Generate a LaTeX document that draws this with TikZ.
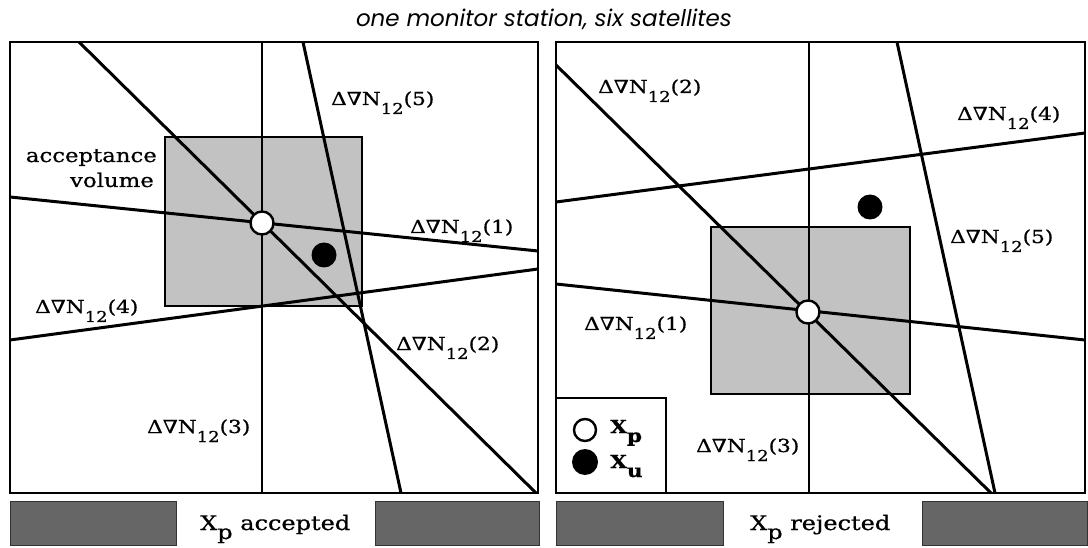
\documentclass[tikz,border=0pt]{standalone}
\usepackage{fontspec}
\setmainfont{DejaVu Serif}[FakeStretch=1.2, FakeBold=0.7]
\newfontfamily\titlefont{Poppins}
\newcommand\dvn[1]{Δ∇N\raisebox{-9pt}{\fontsize{15}{15}\selectfont 12}(#1)}
\newcommand\lsub[2]{#1\raisebox{-9pt}{#2}}
\tikzset{
  frame/.style={draw=black, line width=2.4pt, fill=white},
  vol/.style={draw=black, line width=2.4pt, fill=black!24},
  bar/.style={draw=black!80, line width=0.8pt, fill=black!60},
  thickline/.style={line width=3pt},
  thinline/.style={line width=2pt},
  lbl/.style={anchor=base west, inner sep=0pt, font=\fontsize{18}{20}\selectfont},
  openpt/.style={circle, draw=black, line width=2.4pt, fill=white, minimum size=23pt, inner sep=0pt},
  fullpt/.style={circle, fill=black, minimum size=25pt, inner sep=0pt},
  bigtxt/.style={anchor=base west, inner sep=0pt, font=\fontsize{20}{22}\selectfont},
}
\begin{document}
\begin{tikzpicture}[x=1pt,y=-1pt]
\useasboundingbox (0,0) rectangle (1088,548);
% title
\node[anchor=base, inner sep=0pt, font=\titlefont\itshape\fontsize{23}{25}\selectfont] (title) at (544,27) {one monitor station, six satellites};

% ---------- left panel ----------
\draw[frame] (10,42) rectangle (538,493);
\draw[vol] (165,137) rectangle (362,306);
\coordinate (a1) at (10,197);  \coordinate (b1) at (538,251);
\coordinate (a2) at (79,42);   \coordinate (b2) at (536,493);
\coordinate (a3) at (262,42);  \coordinate (b3) at (262,493);
\coordinate (a4) at (10,340);  \coordinate (b4) at (538,269);
\coordinate (a5) at (303,42);  \coordinate (b5) at (401,493);
\draw[thickline] (a1) -- (b1);
\draw[thickline] (a2) -- (b2);
\draw[thinline] (a3) -- (b3);
\draw[thickline] (a4) -- (b4);
\draw[thickline] (a5) -- (b5);
\node[openpt] (xpL) at (262,223) {};
\node[fullpt] (xuL) at (324,255) {};
\node[lbl] (l5) at (331,105) {\dvn{5}};
\node[lbl] (l1) at (410,233) {\dvn{1}};
\node[lbl] (l4) at (35,313) {\dvn{4}};
\node[lbl] (l2) at (396,350) {\dvn{2}};
\node[lbl] (l3) at (147,433) {\dvn{3}};
\node[anchor=base east, inner sep=0pt, font=\fontsize{19}{21}\selectfont] (acc) at (157,162) {acceptance};
\node[anchor=base east, inner sep=0pt, font=\fontsize{19}{21}\selectfont] (volu) at (154,187) {volume};
\draw[bar] (10,501) rectangle (176,545);
\draw[bar] (375,501) rectangle (539,545);
\node[bigtxt] (accepted) at (200,530) {\lsub{X}{p} accepted};

% ---------- right panel ----------
\draw[frame] (556,42) rectangle (1085,493);
\draw[vol] (711,227) rectangle (910,394);
\coordinate (c1) at (556,284);  \coordinate (d1) at (1085,340);
\coordinate (c2) at (556,65);   \coordinate (d2) at (991,493);
\coordinate (c3) at (809,42);   \coordinate (d3) at (809,493);
\coordinate (c4) at (556,202);  \coordinate (d4) at (1085,133);
\coordinate (c5) at (897,42);   \coordinate (d5) at (995,493);
\draw[thickline] (c1) -- (d1);
\draw[thickline] (c2) -- (d2);
\draw[thinline] (c3) -- (d3);
\draw[thickline] (c4) -- (d4);
\draw[thickline] (c5) -- (d5);
\node[openpt] (xpR) at (808,312) {};
\node[fullpt] (xuR) at (870,207) {};
\node[lbl] (r2) at (598,93) {\dvn{2}};
\node[lbl] (r4) at (957,120) {\dvn{4}};
\node[lbl] (r5) at (950,243) {\dvn{5}};
\node[lbl] (r1) at (584,330) {\dvn{1}};
\node[lbl] (r3) at (696,452) {\dvn{3}};
% legend
\draw[line width=2.4pt, fill=white] (556,398) rectangle (666,493);
\node[openpt, minimum size=22pt] (legp) at (585,430) {};
\node[fullpt, minimum size=26pt] (legu) at (585,462) {};
\node[lbl, font=\bfseries\fontsize{18}{20}\selectfont] (legpt) at (610,433) {\lsub{X}{p}};
\node[lbl, font=\bfseries\fontsize{18}{20}\selectfont] (legut) at (610,468) {\lsub{X}{u}};
\draw[bar] (556,501) rectangle (723,545);
\draw[bar] (922,501) rectangle (1087,545);
\node[bigtxt] (rejected) at (750,530) {\lsub{X}{p} rejected};
\end{tikzpicture}
\end{document}
